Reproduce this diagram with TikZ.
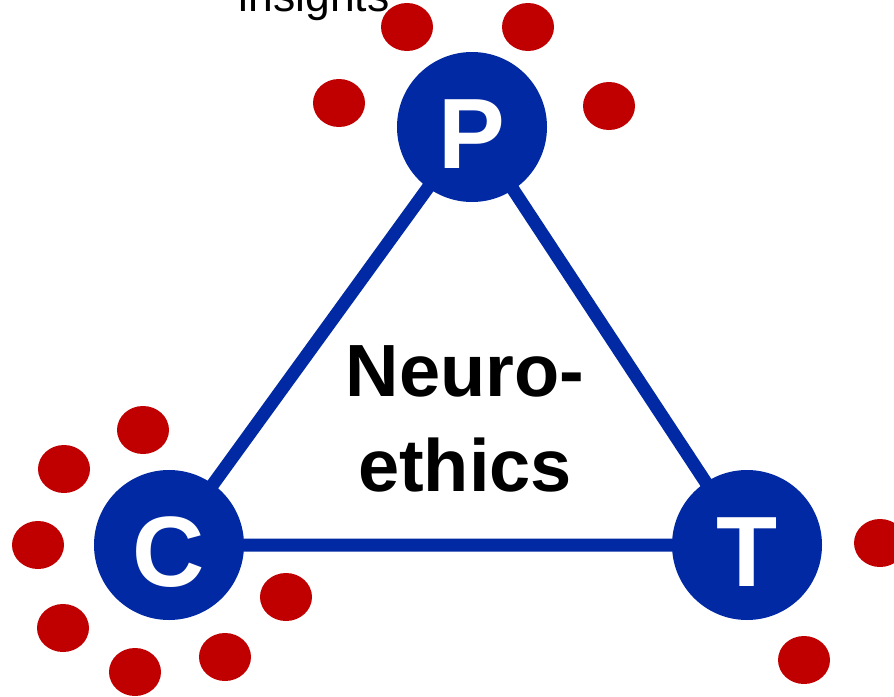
\documentclass[tikz,border=0pt]{standalone}
\usepackage{fontspec}
\setmainfont{Liberation Sans}
\usetikzlibrary{shapes.geometric, backgrounds}
\definecolor{hubblue}{RGB}{0,41,163}
\definecolor{dotred}{RGB}{192,0,0}

\begin{document}
\begin{tikzpicture}[x=1pt, y=-1pt,
   hub/.style={circle, fill=hubblue, minimum size=150pt, inner sep=0pt, text=white,
               text height=82pt, text depth=0pt, font=\fontsize{100}{120}\selectfont\bfseries},
   dot/.style={ellipse, fill=dotred, minimum width=52pt, minimum height=48pt, inner sep=0pt},
   link/.style={hubblue, line width=13pt}]

 \useasboundingbox (0,0) rectangle (894,696);

 \node[hub] (p) at (472,127) {P};
 \node[hub] (c) at (169,545) {C};
 \node[hub] (t) at (747,545) {T};

 \node[font=\fontsize{74}{95}\selectfont\bfseries, align=center, anchor=north, inner sep=0pt]
   (topic) at (465,345) {Neuro-\\ethics};
 \node[font=\fontsize{44.5}{50}\selectfont, anchor=base, inner sep=0pt] (insights) at (314,11) {insights};

 % dots round P
 \node[dot] (p1) at (407,27) {};
 \node[dot] (p2) at (528,27) {};
 \node[dot] (p3) at (339,103) {};
 \node[dot] (p4) at (609,106) {};

 % dots round C
 \node[dot] (c1) at (143,430) {};
 \node[dot] (c2) at (64,469) {};
 \node[dot] (c3) at (38,545) {};
 \node[dot] (c4) at (63,628) {};
 \node[dot] (c5) at (135,672) {};
 \node[dot] (c6) at (225,657) {};
 \node[dot] (c7) at (286,597) {};

 % dots round T
 \node[dot] (t1) at (880,543) {};
 \node[dot] (t2) at (804,660) {};

 \begin{scope}[on background layer]
  \draw[link] (c.center) -- (p.center) -- (t.center) -- (c.center);
 \end{scope}
\end{tikzpicture}
\end{document}
